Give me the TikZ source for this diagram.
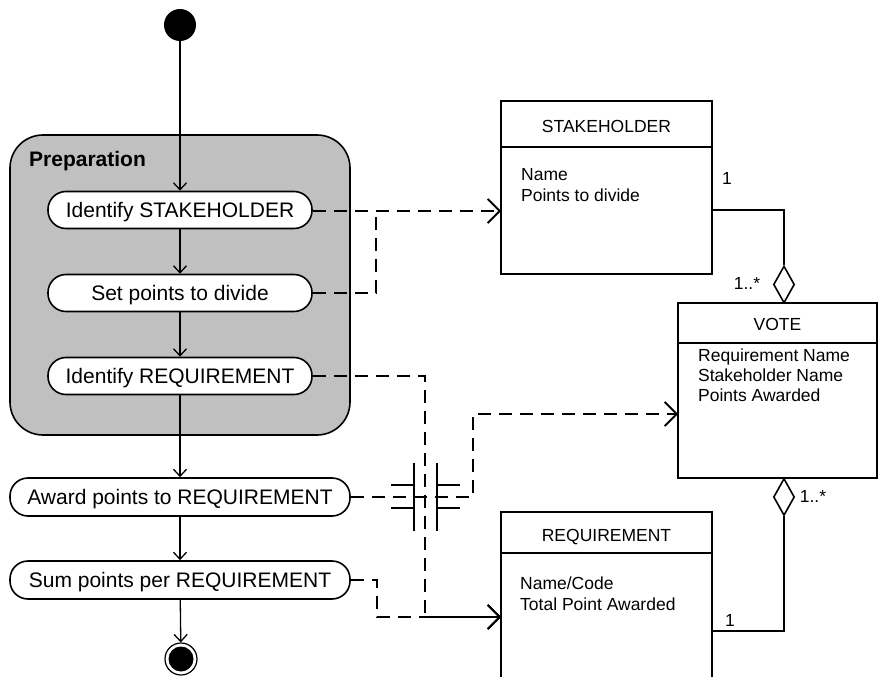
\documentclass[tikz,border=0pt]{standalone}
\usepackage{fontspec}
\setmainfont{Liberation Sans}
\usetikzlibrary{arrows.meta,shapes.geometric}
\definecolor{prepgray}{RGB}{192,192,192}
\tikzset{
  act/.style={draw, line width=1.6pt, fill=white, rounded corners=18pt,
    minimum width=264pt, minimum height=37pt, inner sep=0pt,
    text height=15pt, text depth=0pt, font=\fontsize{21}{25}\selectfont},
  flow/.style={line width=1.3pt, -{Straight Barb[length=7pt,width=13pt]}},
  dep/.style={line width=1.8pt, dash pattern=on 13pt off 8pt},
  deparrow/.style={dep, -{Straight Barb[length=12pt,width=24pt]}},
  classbox/.style={draw, line width=1.8pt, fill=white, inner sep=0pt},
  divider/.style={draw=black, line width=1.8pt},
  ctext/.style={font=\fontsize{17.5}{21}\selectfont, inner sep=0pt, anchor=base west},
  ctitle/.style={font=\fontsize{17.5}{21}\selectfont, inner sep=0pt, anchor=base},
  agg/.style={diamond, draw, line width=1.6pt, fill=white, inner sep=0pt,
    minimum width=21pt, minimum height=37pt},
  assoc/.style={line width=1.6pt},
}
\begin{document}
\begin{tikzpicture}[x=1pt,y=-1pt]
\useasboundingbox (0,0) rectangle (879,677);
\clip (0,0) rectangle (879,677);

% Preparation region
\node (prep) [draw, line width=1.6pt, fill=prepgray, rounded corners=33pt,
  minimum width=340pt, minimum height=300pt, inner sep=0pt] at (180,285) {};
\node (preplabel) [font=\bfseries\fontsize{21}{25}\selectfont, inner sep=0pt,
  anchor=base west] at (29,166) {Preparation};

% Activity nodes
\node (start) [circle, fill=black, minimum size=32pt, inner sep=0pt] at (180,25) {};
\node (a1) [act] at (180,210) {Identify STAKEHOLDER};
\node (a2) [act] at (180,293) {Set points to divide};
\node (a3) [act] at (180,376) {Identify REQUIREMENT};
\node (a4) [act, minimum width=340pt, minimum height=38pt] at (180,497) {Award points to REQUIREMENT};
\node (a5) [act, minimum width=340pt, minimum height=38pt] at (180,580) {Sum points per REQUIREMENT};
\node (end) [circle, draw, line width=1.2pt, minimum size=32pt, inner sep=0pt,
  path picture={\fill[black] (path picture bounding box.center) circle (12.5pt);}]
  at (181,659) {};

% Control flow
\draw[flow] (start) -- (a1);
\draw[flow] (a1) -- (a2);
\draw[flow] (a2) -- (a3);
\draw[flow] (a3) -- (a4);
\draw[flow] (a4) -- (a5);
\draw[flow] (a5) -- (end);

% Classes
\node (sh) [classbox, minimum width=211pt, minimum height=173pt] at (606.5,187.5) {};
\node (shtitle) [ctitle] at (606.5,132) {STAKEHOLDER};
\node (sh1) [ctext] at (521,180) {Name};
\node (sh2) [ctext] at (521,201) {Points to divide};

\node (vote) [classbox, minimum width=199pt, minimum height=175pt] at (777.5,390.5) {};
\node (votetitle) [ctitle] at (777.5,330) {VOTE};
\node (v1) [ctext] at (698,361) {Requirement Name};
\node (v2) [ctext] at (698,381) {Stakeholder Name};
\node (v3) [ctext] at (698,401) {Points Awarded};

\node (req) [classbox, minimum width=211pt, minimum height=188pt] at (606.5,606) {};
\node (reqtitle) [ctitle] at (606.5,541) {REQUIREMENT};
\node (r1) [ctext] at (520,589) {Name/Code};
\node (r2) [ctext] at (520,610) {Total Point Awarded};

% Aggregations
\node (d1) [agg] at (784,284.5) {};
\node (d2) [agg] at (784,497) {};
\draw[assoc] (sh.east |- 0,210) -| (d1.north);
\draw[assoc] (d2.south) |- (req.east |- 0,631);
\node (m1) [ctitle] at (727,184) {1};
\node (m2) [ctitle] at (747,289) {1..*};
\node (m3) [ctitle] at (813,502) {1..*};
\node (m4) [ctitle] at (730,626) {1};

% Object flows
\coordinate (shin) at (501,211);
\coordinate (votein) at (678,414);
\coordinate (reqin) at (501,617);
\draw[deparrow] (a1.east |- 0,211) -- (shin);
\draw[dep] (a2.east) -| (376,211);
\draw[deparrow] (a3.east) -| (425,617) -- (reqin);
\draw[deparrow] (a5.east) -| (377,617) -- (reqin);
\draw[deparrow] (a4.east) -| (473,414) -- (votein);

% Crossing mark
\draw[line width=1.6pt] (414,463) -- (414,531);
\draw[line width=1.6pt] (437,463) -- (437,531);
\draw[line width=1.6pt] (391,485) -- (414,485);
\draw[line width=1.6pt] (391,508) -- (414,508);
\draw[line width=1.6pt] (437,485) -- (460,485);
\draw[line width=1.6pt] (437,508) -- (460,508);

% Compartment dividers of the classes
\draw[divider] (501,147) -- (712,147);
\draw[divider] (678,343) -- (877,343);
\draw[divider] (501,553) -- (712,553);
\end{tikzpicture}
\end{document}
